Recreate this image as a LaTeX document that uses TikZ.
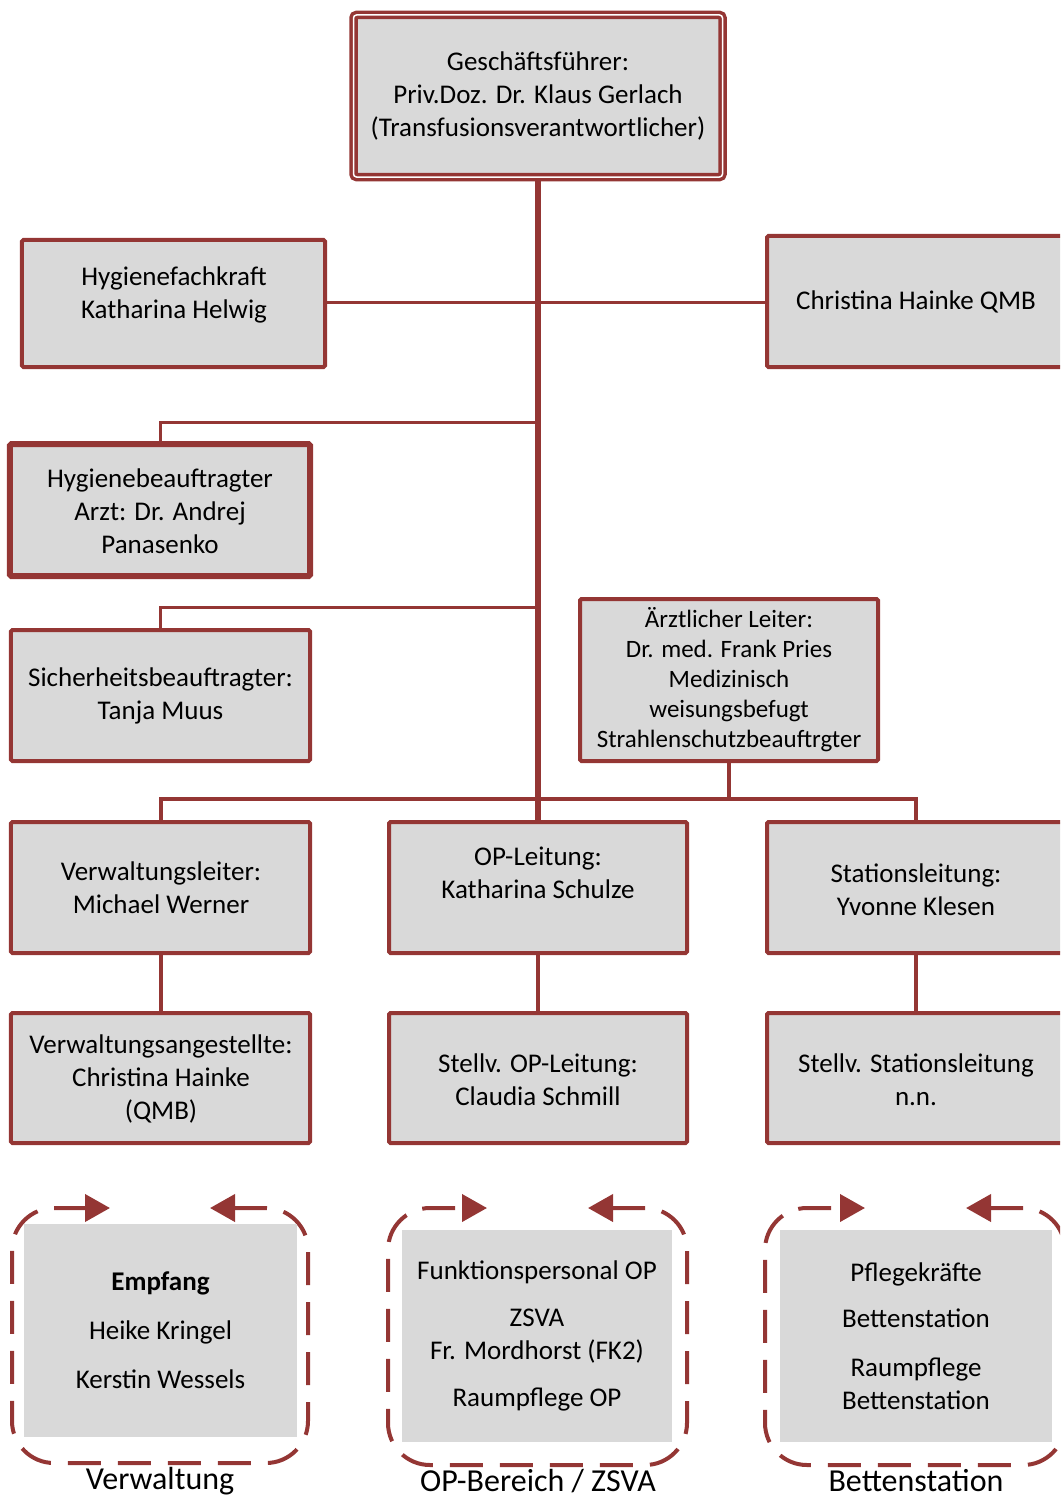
\documentclass[tikz,border=0pt]{standalone}
\usepackage{fontspec}
\setmainfont{Carlito}
\usetikzlibrary{arrows.meta,backgrounds}
\definecolor{dred}{HTML}{943634}
\definecolor{lgray}{HTML}{D9D9D9}
\begin{document}
\begin{tikzpicture}[x=1bp,y=-1bp,
  box/.style={draw=dred, fill=lgray, line width=4bp, rounded corners=1.5bp, inner sep=0pt},
  txt/.style={align=center, font=\fontsize{27bp}{32.8bp}\selectfont, inner sep=0pt},
  smalltxt/.style={align=center, font=\fontsize{25bp}{30bp}\selectfont, inner sep=0pt},
  gbox/.style={fill=lgray, inner sep=0pt, align=center, font=\fontsize{27bp}{32.8bp}\selectfont},
  lbl/.style={inner sep=0pt, font=\fontsize{32bp}{36bp}\selectfont},
  conn/.style={draw=dred, line width=3bp},
  bus/.style={draw=dred, line width=4bp},
  mainline/.style={draw=dred, line width=6bp},
  cyc/.style={draw=dred, line width=4bp, dash pattern=on 33bp off 17bp, rounded corners=42bp,
    {Triangle[length=25bp,width=27bp]}-{Triangle[length=25bp,width=27bp]}}
]
\useasboundingbox (0,0) rectangle (1060,1498);
\clip (0,0) rectangle (1060,1498);

% top box
\node[draw=dred, double=white, double distance=1.5bp, line width=3.5bp, fill=lgray,
      rounded corners=3bp, inner sep=0pt, minimum width=369bp, minimum height=162bp] (gf) at (538,96) {};
\node[txt] (gft) at (538,96) {Geschäftsführer:\\Priv.Doz. Dr. Klaus Gerlach\\(Transfusionsverantwortlicher)};

% staff boxes
\node[box, minimum width=303bp, minimum height=127bp] (hf) at (173.5,303.5) {};
\node[txt] (hft) at (174,295) {Hygienefachkraft\\Katharina Helwig};

\node[box, minimum width=298bp, minimum height=131bp] (ch) at (916,301.5) {};
\node[txt] (cht) at (916,302) {Christina Hainke QMB};

\node[box, line width=6bp, minimum width=300bp, minimum height=132bp] (hb) at (160,510) {};
\node[txt] (hbt) at (160,511) {Hygienebeauftragter\\Arzt: Dr. Andrej\\Panasenko};

\node[box, minimum width=299bp, minimum height=131bp] (sb) at (160.5,695.5) {};
\node[txt] (sbt) at (160.5,696) {Sicherheitsbeauftragter:\\Tanja Muus};

\node[box, minimum width=298bp, minimum height=162bp] (al) at (729,680) {};
\node[smalltxt] (alt) at (729,680) {Ärztlicher Leiter:\\Dr. med. Frank Pries\\Medizinisch\\weisungsbefugt\\Strahlenschutzbeauftrgter};

% leaders
\node[box, minimum width=299bp, minimum height=131bp] (vl) at (160.5,887.5) {};
\node[txt] (vlt) at (161,888) {Verwaltungsleiter:\\Michael Werner};

\node[box, minimum width=298bp, minimum height=131bp] (op) at (538,887.5) {};
\node[txt] (opt) at (538,873) {OP-Leitung:\\Katharina Schulze};

\node[box, minimum width=298bp, minimum height=131bp] (sl) at (916,887.5) {};
\node[txt] (slt) at (916,890) {Stationsleitung:\\Yvonne Klesen};

% deputies
\node[box, minimum width=299bp, minimum height=130bp] (va) at (160.5,1078) {};
\node[txt] (vat) at (161,1079) {Verwaltungsangestellte:\\Christina Hainke\\(QMB)};

\node[box, minimum width=298bp, minimum height=130bp] (sop) at (538,1078) {};
\node[txt] (sopt) at (538,1080) {Stellv. OP-Leitung:\\Claudia Schmill};

\node[box, minimum width=298bp, minimum height=130bp] (ssl) at (916,1078) {};
\node[txt] (sslt) at (916,1080) {Stellv. Stationsleitung\\n.n.};

% connectors (behind boxes)
\begin{scope}[on background layer]
  \coordinate (jq) at (538,302);
  \coordinate (j1) at (538,422);
  \coordinate (j2) at (538,607);
  \coordinate (jb) at (538,799);
  \draw[mainline] (gf.south) -- (op.north);
  \draw[conn] (jq -| hf.east) -- (jq -| ch.west);
  \draw[conn] (j1) -| (hb.north);
  \draw[conn] (j2) -| (sb.north);
  \draw[bus] (al.south) -- (al.south |- jb);
  \draw[bus] (vl.north) |- (jb) -| (sl.north);
  \draw[bus] (vl.south) -- (va.north);
  \draw[bus] (op.south) -- (sop.north);
  \draw[bus] (sl.south) -- (ssl.north);
\end{scope}

% bottom groups: cycles
\draw[cyc] (210,1208) -- (308,1208) -- (308,1463) -- (12,1463) -- (12,1208) -- (110,1208);
\draw[cyc] (588,1208) -- (687,1208) -- (687,1465) -- (388,1465) -- (388,1208) -- (487,1208);
\draw[cyc] (966,1208) -- (1065,1208) -- (1065,1465) -- (765,1465) -- (765,1208) -- (865,1208);

\node[gbox, minimum width=273bp, minimum height=213bp] (g1) at (160.5,1330.5)
  {\textbf{Empfang}\\[16bp]Heike Kringel\\[16bp]Kerstin Wessels};
\node[gbox, minimum width=270bp, minimum height=212bp] (g2) at (537,1336)
  {Funktionspersonal OP\\[14bp]ZSVA\\Fr. Mordhorst (FK2)\\[14bp]Raumpflege OP};
\node[gbox, minimum width=272bp, minimum height=212bp] (g3) at (916,1336)
  {Pflegekräfte\\[14bp]Bettenstation\\[16bp]Raumpflege\\Bettenstation};

\node[lbl] (l1) at (160,1481) {Verwaltung};
\node[lbl] (l2) at (538,1481) {OP-Bereich / ZSVA};
\node[lbl] (l3) at (916,1481) {Bettenstation};
\end{tikzpicture}
\end{document}
